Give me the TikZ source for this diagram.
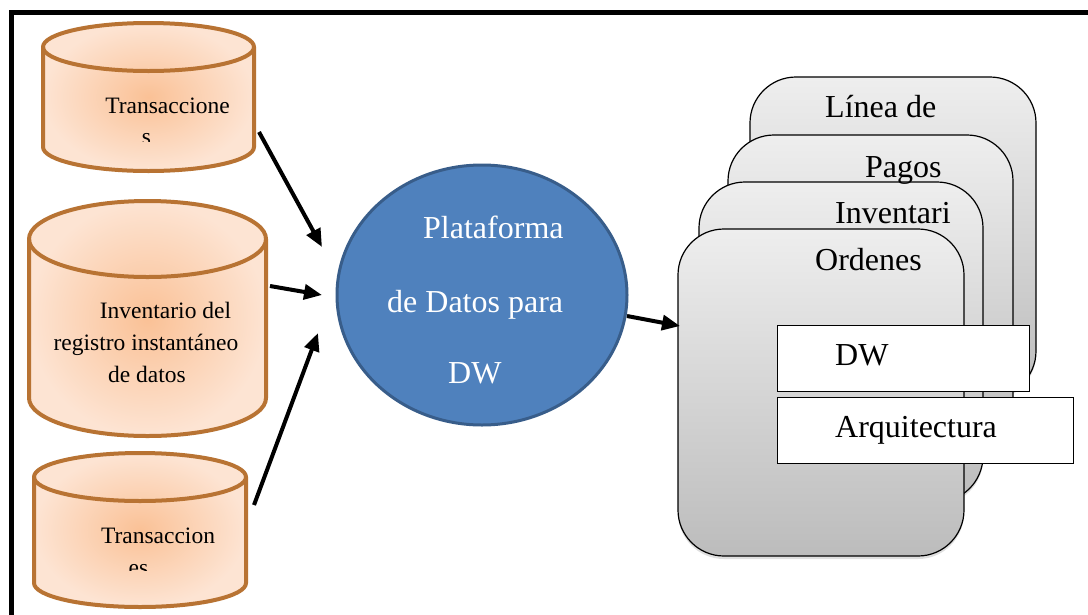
\documentclass[tikz,border=0pt]{standalone}
\usepackage{fontspec}
\setmainfont{Liberation Serif}
\usetikzlibrary{shapes.geometric,arrows.meta,shadows}
\definecolor{cylborder}{HTML}{B87333}
\definecolor{cylin}{HTML}{FAC196}
\definecolor{cylout}{HTML}{FDE4D3}
\definecolor{platfill}{HTML}{4F81BD}
\definecolor{platborder}{HTML}{385D8A}
\definecolor{boxtop}{HTML}{EEEEEE}
\definecolor{boxbot}{HTML}{BCBCBC}
\newcommand{\mycyl}[5]{%
  \pgfmathsetmacro{\myrx}{(#2-#1)/2}%
  \shadedraw[inner color=cylin, outer color=cylout, draw=cylborder, line width=4pt, line join=round]
    (#1,-#3) -- (#1,-#4) arc[start angle=180,end angle=360,x radius=\myrx pt,y radius=#5pt]
    -- (#2,-#3) arc[start angle=0,end angle=180,x radius=\myrx pt,y radius=#5pt] -- cycle;
  \draw[cylborder, line width=4pt] (#1,-#3) arc[start angle=180,end angle=360,x radius=\myrx pt,y radius=#5pt];
}
\tikzset{
  smalltxt/.style={font=\fontsize{23.5}{28}\selectfont, inner sep=0pt, anchor=base},
  bigtxt/.style={font=\fontsize{32}{38}\selectfont, inner sep=0pt, anchor=base west},
  rbox/.style={rectangle, rounded corners=46pt, draw=black, line width=1.2pt, top color=boxtop, bottom color=boxbot, inner sep=0pt,
     drop shadow={opacity=0.25, shadow xshift=0pt, shadow yshift=-3pt}},
  wbox/.style={rectangle, draw=black, line width=1pt, fill=white, inner sep=0pt, anchor=north west},
  arr/.style={line width=4pt, -{Triangle[length=18pt, width=15pt]}},
}
\begin{document}
\begin{tikzpicture}[x=1pt,y=1pt]
\useasboundingbox (0,0) rectangle (1088,-614);
\fill[white] (0,0) rectangle (1088,-614);
% frame
\draw[line width=5pt] (11,-620) -- (11,-12.5) -- (1100,-12.5);

% cylinders
\mycyl{43}{254}{47}{147}{24}
\mycyl{29}{266}{239}{398}{38}
\mycyl{34}{246}{477}{583}{24}

\node[smalltxt] (c1a) at (167.5,-113) {Transaccione};
\begin{scope}
  \clip (0,0) rectangle (1088,-141.5);
  \node[smalltxt] (c1b) at (146.5,-144) {s};
\end{scope}
\node[smalltxt] (c2a) at (165.5,-318) {Inventario del};
\node[smalltxt] (c2b) at (146,-350) {registro instantáneo};
\node[smalltxt] (c2c) at (147,-382) {de datos};
\node[smalltxt] (c3a) at (158,-543) {Transaccion};
\begin{scope}
  \clip (0,0) rectangle (1088,-570.5);
  \node[smalltxt] (c3b) at (138.5,-575) {es};
\end{scope}

% platform ellipse
\node[ellipse, minimum width=290pt, minimum height=260pt, fill=platfill, draw=platborder, line width=3pt, inner sep=0pt] (plat) at (482,-295) {};
\node[bigtxt, text=white] (p1) at (423,-238) {Plataforma};
\node[bigtxt, text=white] (p2) at (387,-312) {de Datos para};
\node[bigtxt, text=white] (p3) at (448,-383) {DW};

% stacked rounded boxes
\node[rbox, minimum width=286pt, minimum height=320pt] (b4) at (893,-237) {};
\node[rbox, minimum width=285pt, minimum height=320pt] (b3) at (870.5,-295) {};
\node[rbox, minimum width=284pt, minimum height=320pt] (b2) at (841,-342) {};
\node[rbox, minimum width=286pt, minimum height=327pt] (b1) at (821,-392.5) {};
\node[bigtxt] (t4) at (825,-117) {Línea de};
\node[bigtxt] (t3) at (865,-177) {Pagos};
\node[bigtxt] (t2) at (835,-223) {Inventari};
\node[bigtxt] (t1) at (815,-270) {Ordenes};

\node[wbox, minimum width=252pt, minimum height=66pt] (dwbox) at (777,-325) {};
\node[wbox, minimum width=296pt, minimum height=66pt] (arbox) at (777,-397) {};
\node[bigtxt] (dwt) at (835,-365) {DW};
\node[bigtxt] (art) at (835,-437) {Arquitectura};

% arrows
\coordinate (a1s) at (259,-132);
\coordinate (a1e) at (322,-247);
\coordinate (a2s) at (270,-286);
\coordinate (a2e) at (322,-295);
\coordinate (a3s) at (254,-505);
\coordinate (a3e) at (318,-333);
\coordinate (a4s) at (627,-316);
\coordinate (a4e) at (680,-326);
\draw[arr] (a1s) -- (a1e);
\draw[arr] (a2s) -- (a2e);
\draw[arr] (a3s) -- (a3e);
\draw[arr] (a4s) -- (a4e);
\end{tikzpicture}
\end{document}
